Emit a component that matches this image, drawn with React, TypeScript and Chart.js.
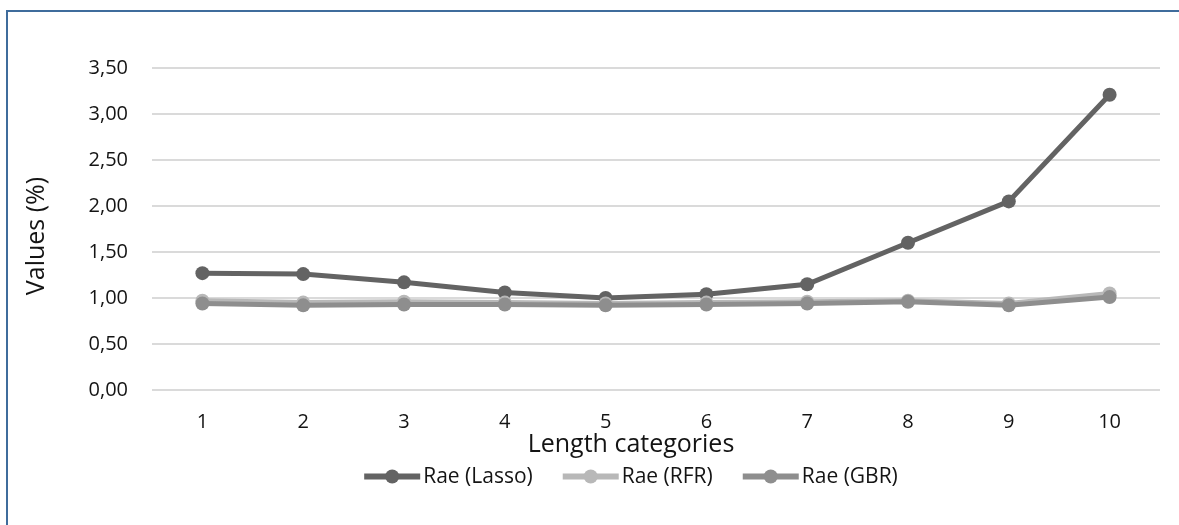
import React, { useEffect, useRef } from "react";
import { Chart, registerables } from "chart.js";

Chart.register(...registerables);

const categories = ["1", "2", "3", "4", "5", "6", "7", "8", "9", "10"];
const lassoValues = [1.27, 1.26, 1.17, 1.06, 1.0, 1.04, 1.15, 1.6, 2.05, 3.21];
const rfrValues = [0.97, 0.95, 0.96, 0.95, 0.94, 0.95, 0.96, 0.97, 0.94, 1.05];
const gbrValues = [0.94, 0.92, 0.93, 0.93, 0.92, 0.93, 0.94, 0.96, 0.92, 1.01];
const seriesNames = ["Rae (Lasso)", "Rae (RFR)", "Rae (GBR)"];
const seriesColors = ["#636363", "#B8B8B8", "#8E8E8E"];
const yMin = 0;
const yMax = 3.5;
const yStep = 0.5;
const xTitle = "Length categories";
const yTitle = "Values (%)";

const FONT = "'Open Sans', 'DejaVu Sans', sans-serif";
const TEXT = "#141414";

const decorPlugin = {
  id: "decor",
  beforeDraw(chart: any) {
    const ctx = chart.ctx;
    ctx.save();
    ctx.fillStyle = "#ffffff";
    ctx.fillRect(0, 0, chart.width, chart.height);
    ctx.strokeStyle = "#3F6C9C";
    ctx.lineWidth = 2;
    ctx.strokeRect(7, 11, chart.width + 20, chart.height + 20);
    ctx.restore();
  },
  afterDraw(chart: any) {
    const ctx = chart.ctx;
    const area = chart.chartArea;
    const centerX = 631;
    ctx.save();
    ctx.fillStyle = TEXT;
    // y title
    ctx.font = `25px ${FONT}`;
    ctx.textAlign = "center";
    ctx.textBaseline = "middle";
    ctx.save();
    ctx.translate(37, (area.top + area.bottom) / 2 + 7);
    ctx.rotate(-Math.PI / 2);
    ctx.fillText(yTitle, 0, 0);
    ctx.restore();
    // x title
    ctx.textBaseline = "alphabetic";
    ctx.fillText(xTitle, centerX, area.bottom + 62);
    // legend
    ctx.font = `21px ${FONT}`;
    const lineLen = 56;
    const textGap = 3;
    const itemGap = 30;
    const widths = seriesNames.map((n) => ctx.measureText(n).width);
    const total = widths.reduce((s, w) => s + lineLen + textGap + w, 0) + itemGap * (seriesNames.length - 1);
    let x = centerX - total / 2;
    const baseY = area.bottom + 93;
    const markY = baseY - 6.5;
    ctx.textAlign = "left";
    seriesNames.forEach((name, i) => {
      ctx.strokeStyle = seriesColors[i];
      ctx.lineWidth = 6;
      ctx.beginPath();
      ctx.moveTo(x, markY);
      ctx.lineTo(x + lineLen, markY);
      ctx.stroke();
      ctx.fillStyle = seriesColors[i];
      ctx.beginPath();
      ctx.arc(x + lineLen / 2, markY, 7, 0, Math.PI * 2);
      ctx.fill();
      ctx.fillStyle = TEXT;
      ctx.fillText(name, x + lineLen + textGap, baseY);
      x += lineLen + textGap + widths[i] + itemGap;
    });
    ctx.restore();
  },
};

export default function App() {
  const ref = useRef<HTMLCanvasElement>(null);
  useEffect(() => {
    if (!ref.current) return;
    const values = [lassoValues, rfrValues, gbrValues];
    const orders = [2, 1, 0];
    const chart = new Chart(ref.current, {
      type: "line",
      data: {
        labels: categories,
        datasets: seriesNames.map((name, i) => ({
          label: name,
          data: values[i],
          borderColor: seriesColors[i],
          backgroundColor: seriesColors[i],
          pointBackgroundColor: seriesColors[i],
          pointBorderColor: seriesColors[i],
          borderWidth: 5,
          pointRadius: 7,
          pointBorderWidth: 0,
          tension: 0,
          fill: false,
          order: orders[i],
        })),
      },
      options: {
        animation: false,
        responsive: false,
        maintainAspectRatio: false,
        layout: { padding: { top: 68, right: 19, bottom: 85, left: 0 } },
        plugins: { legend: { display: false }, tooltip: { enabled: false } },
        scales: {
          x: {
            offset: true,
            grid: { display: false, drawTicks: false },
            border: { display: false },
            ticks: { font: { family: FONT, size: 20 }, color: TEXT, padding: 20 },
            afterFit: (s: any) => {
              s.height = 50;
            },
          },
          y: {
            min: yMin,
            max: yMax,
            grid: { color: "#DADADA", lineWidth: 2, drawTicks: false },
            border: { display: false },
            ticks: {
              stepSize: yStep,
              font: { family: FONT, size: 20 },
              color: TEXT,
              padding: 24,
              callback: (v: any) => Number(v).toFixed(2).replace(".", ","),
            },
            afterFit: (s: any) => {
              s.width = 152;
            },
          },
        },
      },
      plugins: [decorPlugin],
    });
    return () => chart.destroy();
  }, []);
  return (
    <div style={{ position: "absolute", left: 0, top: 0, width: 1179, height: 525, overflow: "hidden", background: "#fff" }}>
      <canvas ref={ref} width={1179} height={525} style={{ width: 1179, height: 525, display: "block" }} />
    </div>
  );
}
